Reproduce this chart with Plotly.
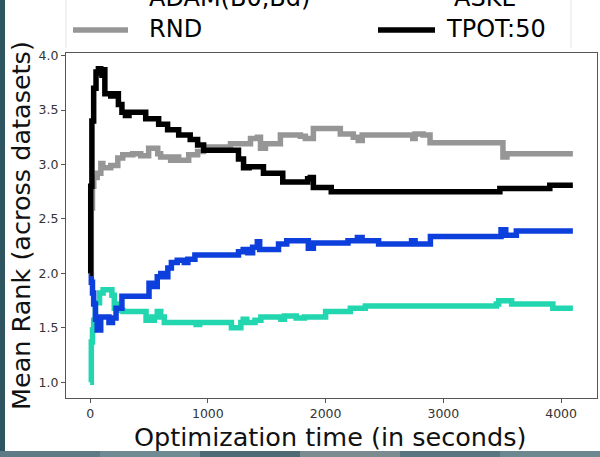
import plotly.graph_objects as go

# ---- data ----
teal_x = [0, 10, 20, 30, 45, 80, 110, 150, 185, 205, 230, 260, 280, 300, 430, 475, 500, 520, 545, 570, 600, 630, 655, 680, 880, 900, 930, 1180, 1200, 1245, 1280, 1300, 1330, 1400, 1450, 1600, 1620, 1650, 1750, 1820, 1950, 2000, 2083, 2210, 2337, 3450, 3470, 3560, 3580, 3900, 3930, 4100]
teal_y = [1.0, 1.37, 1.48, 1.57, 1.73, 1.82, 1.85, 1.85, 1.80, 1.68, 1.72, 1.66, 1.65, 1.65, 1.65, 1.57, 1.60, 1.57, 1.60, 1.65, 1.60, 1.55, 1.55, 1.55, 1.55, 1.53, 1.55, 1.55, 1.50, 1.50, 1.55, 1.58, 1.55, 1.57, 1.60, 1.60, 1.58, 1.61, 1.59, 1.60, 1.60, 1.65, 1.65, 1.68, 1.70, 1.72, 1.75, 1.75, 1.72, 1.72, 1.68, 1.68]

blue_x = [0, 10, 20, 30, 45, 60, 90, 130, 160, 190, 220, 270, 300, 460, 500, 530, 570, 600, 640, 660, 690, 740, 800, 830, 890, 1220, 1260, 1300, 1340, 1380, 1420, 1440, 1600, 1670, 1830, 1853, 1896, 2150, 2190, 2270, 2310, 2450, 2690, 2730, 2760, 2830, 2890, 3460, 3490, 3530, 3580, 3620, 4100]
blue_y = [2.0, 1.92, 1.82, 1.72, 1.58, 1.48, 1.60, 1.60, 1.55, 1.59, 1.68, 1.79, 1.79, 1.79, 1.91, 1.88, 1.97, 2.00, 1.97, 2.05, 2.10, 2.12, 2.10, 2.13, 2.17, 2.17, 2.20, 2.22, 2.19, 2.24, 2.29, 2.22, 2.27, 2.30, 2.30, 2.23, 2.28, 2.28, 2.30, 2.33, 2.30, 2.27, 2.27, 2.30, 2.27, 2.27, 2.34, 2.34, 2.40, 2.35, 2.35, 2.39, 2.39]

gray_x = [0, 10, 20, 31, 60, 91, 108, 175, 235, 277, 362, 430, 497, 574, 599, 684, 726, 752, 837, 913, 964, 1192, 1362, 1421, 1447, 1489, 1616, 1786, 1828, 1896, 2099, 2125, 2235, 2277, 2311, 2701, 2740, 2760, 2828, 2887, 3480, 3506, 3540, 4100]
gray_y = [2.0, 2.6, 2.8, 2.88, 2.92, 3.01, 2.97, 2.99, 3.06, 3.09, 3.10, 3.08, 3.15, 3.10, 3.07, 3.04, 3.07, 3.04, 3.09, 3.12, 3.16, 3.19, 3.24, 3.25, 3.15, 3.19, 3.27, 3.26, 3.24, 3.33, 3.33, 3.28, 3.25, 3.22, 3.27, 3.27, 3.24, 3.28, 3.27, 3.20, 3.20, 3.07, 3.10, 3.10]

black_x = [0, 5, 15, 30, 50, 70, 90, 100, 110, 125, 175, 200, 240, 270, 300, 330, 472, 582, 658, 752, 850, 913, 964, 1260, 1303, 1350, 1472, 1636, 1847, 1870, 1896, 2048, 3480, 3904, 4100]
black_y = [2.0, 2.8, 3.4, 3.7, 3.85, 3.88, 3.84, 3.82, 3.87, 3.65, 3.63, 3.65, 3.55, 3.48, 3.45, 3.48, 3.42, 3.37, 3.32, 3.27, 3.23, 3.18, 3.13, 3.05, 2.97, 2.98, 2.92, 2.84, 2.87, 2.88, 2.79, 2.75, 2.78, 2.81, 2.81]

x_ticks = [0, 1000, 2000, 3000, 4000]
y_ticks = [1.0, 1.5, 2.0, 2.5, 3.0, 3.5, 4.0]

legend_names = ["ADAM(B0,Bd)", "ASKL", "RND", "TPOT:50"]

# ---- figure ----
W, H = 600, 457
L, R, T, B = 66, 3, 53, 59
PW, PH = W - L - R, H - T - B


def px(x):
    return (x - L) / PW


def py(y):
    return (H - B - y) / PH


FONT = "DejaVu Sans"
fig = go.Figure()
series = [
    (teal_x, teal_y, "#22d6b0"),
    (blue_x, blue_y, "#0d3fdc"),
    (gray_x, gray_y, "#969696"),
    (black_x, black_y, "#000000"),
]
for xs, ys, c in series:
    fig.add_trace(go.Scatter(x=xs, y=ys, mode="lines",
                             line=dict(color=c, width=5.5, shape="hv"), showlegend=False,
                             hoverinfo="skip"))

axis_common = dict(showline=True, linecolor="#555", linewidth=1, mirror=True,
                   ticks="outside", ticklen=4, tickcolor="#555", showgrid=False,
                   zeroline=False, tickfont=dict(family=FONT, size=12.5, color="#333"))
fig.update_xaxes(range=[-205, 4305], tickvals=x_ticks,
                 ticktext=[str(v) for v in x_ticks], **axis_common)
fig.update_yaxes(range=[0.856, 4.024], tickvals=y_ticks,
                 ticktext=[f"{v:.1f}" for v in y_ticks], **axis_common)

shapes = []
annotations = []
# slide-like edges
shapes.append(dict(type="rect", xref="paper", yref="paper", x0=px(0), x1=px(5),
                   y0=py(H), y1=py(0), fillcolor="#2f5560", line_width=0, layer="below"))
band_cols = ["#5d7a86", "#6f8a93", "#4f6a75", "#7a8c90", "#5a7480", "#6d8790"]
for i, c in enumerate(band_cols):
    shapes.append(dict(type="rect", xref="paper", yref="paper", x0=px(i * 100), x1=px((i + 1) * 100),
                       y0=py(H), y1=py(451), fillcolor=c, line_width=0, layer="below"))
# legend frame sides
for xx in (66, 571):
    shapes.append(dict(type="line", xref="paper", yref="paper", x0=px(xx), x1=px(xx),
                       y0=py(0), y1=py(48), line=dict(color="#e4e4e4", width=1)))
# legend samples
shapes.append(dict(type="line", xref="paper", yref="paper", x0=px(73), x1=px(128),
                   y0=py(30), y1=py(30), line=dict(color="#969696", width=5.5)))
shapes.append(dict(type="line", xref="paper", yref="paper", x0=px(378), x1=px(435),
                   y0=py(30), y1=py(30), line=dict(color="#000000", width=5.5)))

for name, x0, yc in [(legend_names[0], 147, -2), (legend_names[1], 452, -2),
                     (legend_names[2], 147, 29), (legend_names[3], 444, 29)]:
    annotations.append(dict(text=name, xref="paper", yref="paper", x=px(x0), y=py(yc),
                            xanchor="left", yanchor="middle", showarrow=False,
                            font=dict(family=FONT, size=24, color="#000")))

annotations.append(dict(text="Optimization time (in seconds)", xref="paper", yref="paper",
                        x=px(330), y=py(437), xanchor="center", yanchor="middle",
                        showarrow=False, font=dict(family=FONT, size=25.5, color="#111")))
annotations.append(dict(text="Mean Rank (across datasets)", xref="paper", yref="paper",
                        x=px(21), y=py(226), xanchor="center", yanchor="middle", textangle=-90,
                        showarrow=False, font=dict(family=FONT, size=25.5, color="#111")))

fig.update_layout(width=W, height=H, margin=dict(l=L, r=R, t=T, b=B),
                  paper_bgcolor="white", plot_bgcolor="white",
                  shapes=shapes, annotations=annotations, showlegend=False)
fig.write_html("out.html")
